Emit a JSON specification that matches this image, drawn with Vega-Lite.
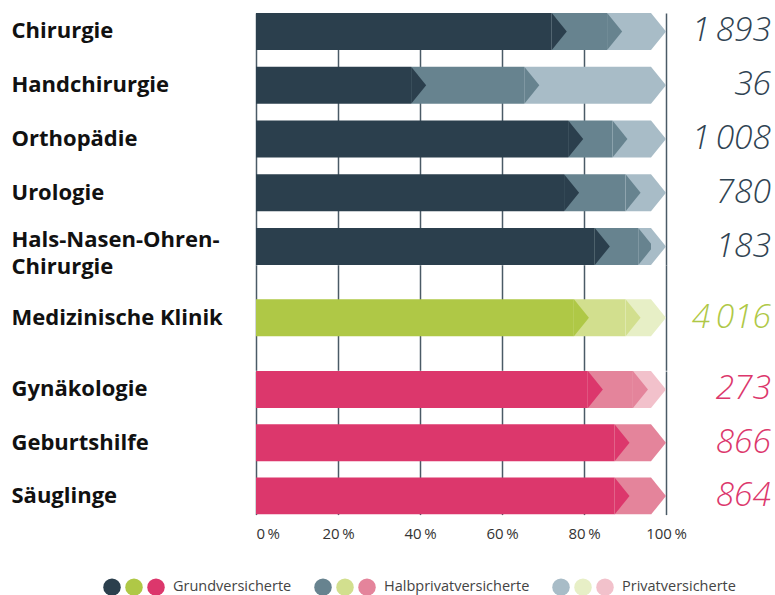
{
  "$schema": "https://vega.github.io/schema/vega-lite/v6.json",
  "background": "white",
  "padding": {"left": 11, "top": 12, "right": 2, "bottom": 5},
  "spacing": 0,
  "bounds": "flush",
  "config": {
    "view": {"stroke": null},
    "font": "Open Sans",
    "locale": {"number": {"decimal": ",", "thousands": "\u2009", "grouping": [3], "currency": ["", ""]}},
    "axisY": {"title": null, "domain": false, "ticks": false, "grid": false, "labelAlign": "left", "labelPadding": 245, "labelFontSize": 22, "labelFontWeight": "bold", "labelColor": "#111111", "labelFont": "Open Sans", "labelLimit": 260, "labelLineHeight": 27},
    "axisX": {"title": null, "domain": false, "ticks": false, "grid": true, "gridColor": "#4a5a66", "gridWidth": 1.5, "gridOpacity": 1, "labelFlush": false}
  },
  "datasets": {
    "anteile": [
      {"gruppe": "Chirurgie", "kategorie": "Chirurgie", "versicherung": "Grundversicherte", "farbe": "Chirurgie: Grundversicherte", "anteil": 75.8},
      {"gruppe": "Chirurgie", "kategorie": "Chirurgie", "versicherung": "Halbprivatversicherte", "farbe": "Chirurgie: Halbprivatversicherte", "anteil": 13.5},
      {"gruppe": "Chirurgie", "kategorie": "Chirurgie", "versicherung": "Privatversicherte", "farbe": "Chirurgie: Privatversicherte", "anteil": 10.7},
      {"gruppe": "Chirurgie", "kategorie": "Handchirurgie", "versicherung": "Grundversicherte", "farbe": "Chirurgie: Grundversicherte", "anteil": 41.5},
      {"gruppe": "Chirurgie", "kategorie": "Handchirurgie", "versicherung": "Halbprivatversicherte", "farbe": "Chirurgie: Halbprivatversicherte", "anteil": 27.6},
      {"gruppe": "Chirurgie", "kategorie": "Handchirurgie", "versicherung": "Privatversicherte", "farbe": "Chirurgie: Privatversicherte", "anteil": 30.9},
      {"gruppe": "Chirurgie", "kategorie": "Orthopädie", "versicherung": "Grundversicherte", "farbe": "Chirurgie: Grundversicherte", "anteil": 79.8},
      {"gruppe": "Chirurgie", "kategorie": "Orthopädie", "versicherung": "Halbprivatversicherte", "farbe": "Chirurgie: Halbprivatversicherte", "anteil": 10.8},
      {"gruppe": "Chirurgie", "kategorie": "Orthopädie", "versicherung": "Privatversicherte", "farbe": "Chirurgie: Privatversicherte", "anteil": 9.4},
      {"gruppe": "Chirurgie", "kategorie": "Urologie", "versicherung": "Grundversicherte", "farbe": "Chirurgie: Grundversicherte", "anteil": 78.8},
      {"gruppe": "Chirurgie", "kategorie": "Urologie", "versicherung": "Halbprivatversicherte", "farbe": "Chirurgie: Halbprivatversicherte", "anteil": 15.0},
      {"gruppe": "Chirurgie", "kategorie": "Urologie", "versicherung": "Privatversicherte", "farbe": "Chirurgie: Privatversicherte", "anteil": 6.2},
      {"gruppe": "Chirurgie", "kategorie": "Hals-Nasen-Ohren-Chirurgie", "versicherung": "Grundversicherte", "farbe": "Chirurgie: Grundversicherte", "anteil": 86.3},
      {"gruppe": "Chirurgie", "kategorie": "Hals-Nasen-Ohren-Chirurgie", "versicherung": "Halbprivatversicherte", "farbe": "Chirurgie: Halbprivatversicherte", "anteil": 10.6},
      {"gruppe": "Chirurgie", "kategorie": "Hals-Nasen-Ohren-Chirurgie", "versicherung": "Privatversicherte", "farbe": "Chirurgie: Privatversicherte", "anteil": 3.1},
      {"gruppe": "Medizin", "kategorie": "Medizinische Klinik", "versicherung": "Grundversicherte", "farbe": "Medizin: Grundversicherte", "anteil": 81.2},
      {"gruppe": "Medizin", "kategorie": "Medizinische Klinik", "versicherung": "Halbprivatversicherte", "farbe": "Medizin: Halbprivatversicherte", "anteil": 12.6},
      {"gruppe": "Medizin", "kategorie": "Medizinische Klinik", "versicherung": "Privatversicherte", "farbe": "Medizin: Privatversicherte", "anteil": 6.2},
      {"gruppe": "Frauenklinik", "kategorie": "Gynäkologie", "versicherung": "Grundversicherte", "farbe": "Frauenklinik: Grundversicherte", "anteil": 84.6},
      {"gruppe": "Frauenklinik", "kategorie": "Gynäkologie", "versicherung": "Halbprivatversicherte", "farbe": "Frauenklinik: Halbprivatversicherte", "anteil": 11.0},
      {"gruppe": "Frauenklinik", "kategorie": "Gynäkologie", "versicherung": "Privatversicherte", "farbe": "Frauenklinik: Privatversicherte", "anteil": 4.4},
      {"gruppe": "Frauenklinik", "kategorie": "Geburtshilfe", "versicherung": "Grundversicherte", "farbe": "Frauenklinik: Grundversicherte", "anteil": 91.1},
      {"gruppe": "Frauenklinik", "kategorie": "Geburtshilfe", "versicherung": "Halbprivatversicherte", "farbe": "Frauenklinik: Halbprivatversicherte", "anteil": 8.9},
      {"gruppe": "Frauenklinik", "kategorie": "Säuglinge", "versicherung": "Grundversicherte", "farbe": "Frauenklinik: Grundversicherte", "anteil": 91.1},
      {"gruppe": "Frauenklinik", "kategorie": "Säuglinge", "versicherung": "Halbprivatversicherte", "farbe": "Frauenklinik: Halbprivatversicherte", "anteil": 8.9}
    ],
    "total": [
      {"gruppe": "Chirurgie", "kategorie": "Chirurgie", "anzahl": 1893},
      {"gruppe": "Chirurgie", "kategorie": "Handchirurgie", "anzahl": 36},
      {"gruppe": "Chirurgie", "kategorie": "Orthopädie", "anzahl": 1008},
      {"gruppe": "Chirurgie", "kategorie": "Urologie", "anzahl": 780},
      {"gruppe": "Chirurgie", "kategorie": "Hals-Nasen-Ohren-Chirurgie", "anzahl": 183},
      {"gruppe": "Medizin", "kategorie": "Medizinische Klinik", "anzahl": 4016},
      {"gruppe": "Frauenklinik", "kategorie": "Gynäkologie", "anzahl": 273},
      {"gruppe": "Frauenklinik", "kategorie": "Geburtshilfe", "anzahl": 866},
      {"gruppe": "Frauenklinik", "kategorie": "Säuglinge", "anzahl": 864}
    ]
  },
  "vconcat": [
    {
      "width": 410,
      "height": 252,
      "encoding": {
        "y": {"field": "kategorie", "type": "nominal", "sort": ["Chirurgie", "Handchirurgie", "Orthopädie", "Urologie", "Hals-Nasen-Ohren-Chirurgie"], "scale": {"paddingInner": 0.312, "paddingOuter": 0},
          "axis": {"labelExpr": "datum.value === 'Hals-Nasen-Ohren-Chirurgie' ? ['Hals-Nasen-Ohren-', 'Chirurgie'] : datum.value",
            "labelOffset": {"condition": {"test": "datum.value === 'Hals-Nasen-Ohren-Chirurgie'", "value": -7}, "value": 0}}}
      },
      "layer": [
        {
          "data": {"name": "anteile"},
          "transform": [
            {"filter": "datum.gruppe === 'Chirurgie'"},
            {"stack": "anteil", "groupby": ["kategorie"], "sort": [{"field": "versicherung", "order": "ascending"}], "as": ["x0", "x1"], "offset": "zero"}
          ],
          "mark": {"type": "bar", "height": 37, "xOffset": -15, "x2Offset": -15, "clip": true},
          "encoding": {
            "x": {"field": "x0", "type": "quantitative", "scale": {"domain": [0, 100], "nice": false, "zero": true}, "axis": {"values": [0, 20, 40, 60, 80, 100], "labels": false}},
            "x2": {"field": "x1"},
            "color": {"field": "farbe", "type": "nominal",
              "scale": {"domain": ["Chirurgie: Grundversicherte", "Medizin: Grundversicherte", "Frauenklinik: Grundversicherte", "Chirurgie: Halbprivatversicherte", "Medizin: Halbprivatversicherte", "Frauenklinik: Halbprivatversicherte", "Chirurgie: Privatversicherte", "Medizin: Privatversicherte", "Frauenklinik: Privatversicherte"],
                "range": ["#2b3f4d", "#afc846", "#dc376c", "#67838f", "#d2df8e", "#e4849b", "#a8bcc7", "#e7efc6", "#f2c1cb"]},
              "legend": {"orient": "none", "legendX": -153, "legendY": 565, "direction": "horizontal", "columns": 9, "title": null, "symbolType": "circle", "symbolSize": 306, "symbolStrokeWidth": 0, "symbolOpacity": 1, "labelFontSize": 14.5, "labelColor": "#444444", "labelFont": "Open Sans", "labelOffset": 0, "columnPadding": 4, "labelLimit": 300,
                "labelExpr": "indexof(datum.label, 'Frauenklinik') === 0 ? slice(datum.label, 14) + '\u2002\u2800' : ''",
                "encode": {"labels": {"update": {"dx": {"signal": "indexof(datum.value, 'Frauenklinik') === 0 ? 8 : 0"}}}}}}
          }
        },
        {
          "data": {"name": "anteile"},
          "transform": [
            {"filter": "datum.gruppe === 'Chirurgie'"},
            {"stack": "anteil", "groupby": ["kategorie"], "sort": [{"field": "versicherung", "order": "ascending"}], "as": ["x0", "x1"], "offset": "zero"}
          ],
          "mark": {"type": "point", "shape": "M-0.81,-1L0,0L-0.81,1Z", "filled": true, "size": 1369, "opacity": 1, "strokeWidth": 0},
          "encoding": {
            "x": {"field": "x1", "type": "quantitative"},
            "color": {"field": "farbe", "type": "nominal"}
          }
        },
        {
          "data": {"name": "total"},
          "transform": [{"filter": "datum.gruppe === 'Chirurgie'"}],
          "mark": {"type": "text", "align": "right", "baseline": "middle", "dx": 105, "fontSize": 33.5, "fontStyle": "italic", "fontWeight": 300, "font": "Open Sans", "color": "#2f4352"},
          "encoding": {
            "x": {"datum": 100, "type": "quantitative"},
            "text": {"field": "anzahl", "type": "quantitative", "format": ",d"}
          }
        }
      ]
    },
    {
      "width": 410,
      "height": 105.3,
      "encoding": {
        "y": {"field": "kategorie", "type": "nominal", "sort": ["Medizinische Klinik"], "scale": {"paddingInner": 0, "paddingOuter": 0}}
      },
      "layer": [
        {
          "data": {"name": "anteile"},
          "transform": [
            {"filter": "datum.gruppe === 'Medizin'"},
            {"stack": "anteil", "groupby": ["kategorie"], "sort": [{"field": "versicherung", "order": "ascending"}], "as": ["x0", "x1"], "offset": "zero"}
          ],
          "mark": {"type": "bar", "height": 37, "xOffset": -15, "x2Offset": -15, "clip": true},
          "encoding": {
            "x": {"field": "x0", "type": "quantitative", "scale": {"domain": [0, 100], "nice": false, "zero": true}, "axis": {"values": [0, 20, 40, 60, 80, 100], "labels": false}},
            "x2": {"field": "x1"},
            "color": {"field": "farbe", "type": "nominal"}
          }
        },
        {
          "data": {"name": "anteile"},
          "transform": [
            {"filter": "datum.gruppe === 'Medizin'"},
            {"stack": "anteil", "groupby": ["kategorie"], "sort": [{"field": "versicherung", "order": "ascending"}], "as": ["x0", "x1"], "offset": "zero"}
          ],
          "mark": {"type": "point", "shape": "M-0.81,-1L0,0L-0.81,1Z", "filled": true, "size": 1369, "opacity": 1, "strokeWidth": 0},
          "encoding": {
            "x": {"field": "x1", "type": "quantitative"},
            "color": {"field": "farbe", "type": "nominal"}
          }
        },
        {
          "data": {"name": "total"},
          "transform": [{"filter": "datum.gruppe === 'Medizin'"}],
          "mark": {"type": "text", "align": "right", "baseline": "middle", "dx": 105, "fontSize": 33.5, "fontStyle": "italic", "fontWeight": 300, "font": "Open Sans", "color": "#afc846"},
          "encoding": {
            "x": {"datum": 100, "type": "quantitative"},
            "text": {"field": "anzahl", "type": "quantitative", "format": ",d"}
          }
        }
      ]
    },
    {
      "width": 410,
      "height": 143.6,
      "encoding": {
        "y": {"field": "kategorie", "type": "nominal", "sort": ["Gynäkologie", "Geburtshilfe", "Säuglinge"], "scale": {"paddingInner": 0.306, "paddingOuter": 0}}
      },
      "layer": [
        {
          "data": {"name": "anteile"},
          "transform": [
            {"filter": "datum.gruppe === 'Frauenklinik'"},
            {"stack": "anteil", "groupby": ["kategorie"], "sort": [{"field": "versicherung", "order": "ascending"}], "as": ["x0", "x1"], "offset": "zero"}
          ],
          "mark": {"type": "bar", "height": 37, "xOffset": -15, "x2Offset": -15, "clip": true},
          "encoding": {
            "x": {"field": "x0", "type": "quantitative", "scale": {"domain": [0, 100], "nice": false, "zero": true},
              "axis": {"values": [0, 20, 40, 60, 80, 100], "labels": true, "labelFontSize": 15, "labelColor": "#333333", "labelFont": "Open Sans", "labelPadding": 12, "labelExpr": "datum.value + '\u2009%'",
                "labelAlign": {"condition": {"test": "datum.value === 0", "value": "left"}, "value": "center"}}},
            "x2": {"field": "x1"},
            "color": {"field": "farbe", "type": "nominal"}
          }
        },
        {
          "data": {"name": "anteile"},
          "transform": [
            {"filter": "datum.gruppe === 'Frauenklinik'"},
            {"stack": "anteil", "groupby": ["kategorie"], "sort": [{"field": "versicherung", "order": "ascending"}], "as": ["x0", "x1"], "offset": "zero"}
          ],
          "mark": {"type": "point", "shape": "M-0.81,-1L0,0L-0.81,1Z", "filled": true, "size": 1369, "opacity": 1, "strokeWidth": 0},
          "encoding": {
            "x": {"field": "x1", "type": "quantitative"},
            "color": {"field": "farbe", "type": "nominal"}
          }
        },
        {
          "data": {"name": "total"},
          "transform": [{"filter": "datum.gruppe === 'Frauenklinik'"}],
          "mark": {"type": "text", "align": "right", "baseline": "middle", "dx": 105, "fontSize": 33.5, "fontStyle": "italic", "fontWeight": 300, "font": "Open Sans", "color": "#dc376c"},
          "encoding": {
            "x": {"datum": 100, "type": "quantitative"},
            "text": {"field": "anzahl", "type": "quantitative", "format": ",d"}
          }
        }
      ]
    }
  ]
}
